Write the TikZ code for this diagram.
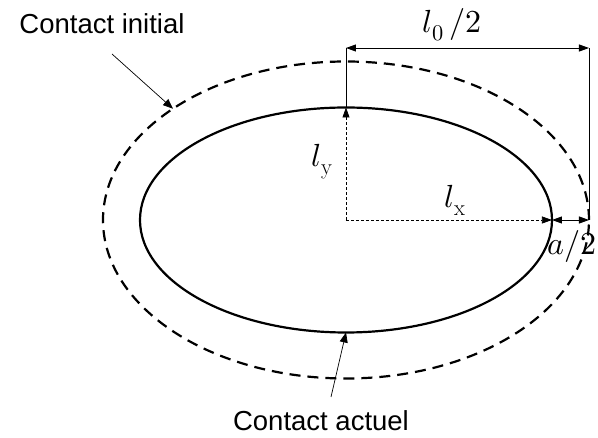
\documentclass[tikz,border=0pt]{standalone}
\usepackage{fontspec}
\usepackage{unicode-math}
\setmathfont{Latin Modern Math}
\usetikzlibrary{arrows.meta, positioning, calc}
\newfontfamily\ctsans{Liberation Sans}
\tikzset{
  ctlabel/.style={font=\ctsans\fontsize{27.5}{30}\selectfont, inner sep=0pt},
  ctmath/.style={font=\fontsize{32}{36}\selectfont, inner sep=0pt},
  ctactual/.style={draw, line width=2.2pt},
  ctinitial/.style={draw, line width=2.2pt, dash pattern=on 11pt off 7pt},
  ctpointer/.style={-{Triangle[length=10pt, width=8pt]}, line width=0.7pt},
  ctdim/.style={{Triangle[length=10pt, width=7pt]}-{Triangle[length=10pt, width=7pt]}, line width=0.9pt},
  ctguide/.style={line width=0.8pt},
  ctaxis/.style={-{Triangle[length=10pt, width=7pt]}, line width=0.7pt, dash pattern=on 3pt off 2pt}
}
\begin{document}
\begin{tikzpicture}[x=1pt, y=1pt]
  \useasboundingbox (-346,-218) rectangle (252,220);
  % contours
  \draw[ctinitial] (0,0) ellipse [x radius=243, y radius=158.5];
  \draw[ctactual] (0,0) ellipse [x radius=206, y radius=112.5];
  \coordinate (c) at (0,0);
  \coordinate (ytop) at (0,112.5);
  \coordinate (xend) at (206,0);
  \coordinate (aend) at (243,0);
  \coordinate (ltop) at (0,172);
  \coordinate (rtop) at (243,172);
  % half axes
  \draw[ctaxis] (c) -- (ytop);
  \draw[ctaxis] (c) -- (xend);
  \draw[ctdim] (xend) -- (aend);
  \draw[ctguide] (ytop) -- (ltop);
  \draw[ctguide] (aend) -- (rtop);
  \draw[ctdim] (ltop) -- (rtop);
  \node[ctmath] (l0) at (106,195) {$l_0\,/2$};
  \node[ctmath] (ly) at (-24,58) {$l_{\mathrm{y}}$};
  \node[ctmath] (lx) at (109,20) {$l_{\mathrm{x}}$};
  \node[ctmath] (a2) at (226,-27) {$a/2$};
  % labels with pointers
  \node[ctlabel] (initial) at (-244,196) {Contact initial};
  \node[ctlabel] (actual) at (-25,-201) {Contact actuel};
  \coordinate (ptinit) at (135.4:243 and 158.5);
  \coordinate (ptact) at (270:206 and 112.5);
  \draw[ctpointer] (-234,166) -- (ptinit);
  \draw[ctpointer] (-15,-177) -- (ptact);
\end{tikzpicture}
\end{document}
